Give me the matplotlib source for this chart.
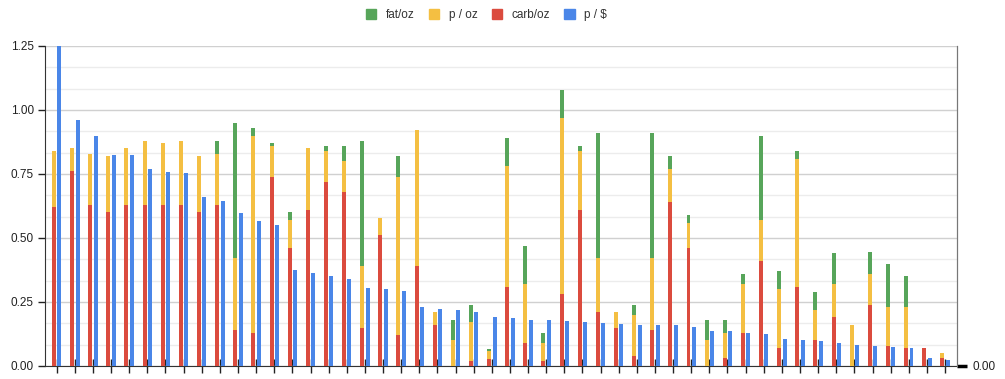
import matplotlib
import matplotlib.pyplot as plt
from matplotlib.patches import Patch
from matplotlib.ticker import MultipleLocator, AutoMinorLocator
import numpy as np

plt.rcParams['font.family'] = ['Liberation Sans', 'DejaVu Sans']
f_size = 8.5

# stacked segments per item (oz based) and protein per dollar
carb_oz = [0.62, 0.76, 0.63, 0.60, 0.63, 0.63, 0.63, 0.63, 0.60, 0.63,
           0.14, 0.13, 0.74, 0.46, 0.61, 0.72, 0.68, 0.15, 0.51, 0.12,
           0.39, 0.16, 0.00, 0.02, 0.027, 0.31, 0.09, 0.02, 0.28, 0.61,
           0.21, 0.15, 0.04, 0.14, 0.64, 0.46, 0.00, 0.03, 0.13, 0.41,
           0.07, 0.31, 0.10, 0.19, 0.00, 0.24, 0.08, 0.07, 0.07, 0.03]
p_oz = [0.22, 0.09, 0.20, 0.22, 0.22, 0.25, 0.24, 0.25, 0.22, 0.20,
        0.28, 0.77, 0.12, 0.11, 0.24, 0.12, 0.12, 0.24, 0.07, 0.62,
        0.53, 0.05, 0.10, 0.15, 0.03, 0.47, 0.23, 0.07, 0.69, 0.23,
        0.21, 0.06, 0.16, 0.28, 0.13, 0.10, 0.10, 0.10, 0.19, 0.16,
        0.23, 0.50, 0.12, 0.13, 0.16, 0.12, 0.15, 0.16, 0.00, 0.02]
fat_oz = [0.00, 0.00, 0.00, 0.00, 0.00, 0.00, 0.00, 0.00, 0.00, 0.05,
          0.53, 0.03, 0.01, 0.03, 0.00, 0.02, 0.06, 0.49, 0.00, 0.08,
          0.00, 0.00, 0.08, 0.07, 0.011, 0.11, 0.15, 0.04, 0.11, 0.02,
          0.49, 0.00, 0.04, 0.49, 0.05, 0.03, 0.08, 0.05, 0.04, 0.33,
          0.07, 0.03, 0.07, 0.12, 0.00, 0.085, 0.17, 0.12, 0.00, 0.00]
p_per_dollar = [1.25, 0.96, 0.90, 0.825, 0.825, 0.77, 0.757, 0.754, 0.662, 0.644,
                0.598, 0.565, 0.549, 0.375, 0.363, 0.352, 0.34, 0.303, 0.299, 0.294,
                0.23, 0.222, 0.219, 0.211, 0.193, 0.189, 0.181, 0.181, 0.177, 0.173,
                0.169, 0.163, 0.159, 0.159, 0.159, 0.151, 0.137, 0.137, 0.129, 0.124,
                0.104, 0.101, 0.098, 0.09, 0.082, 0.078, 0.074, 0.07, 0.033, 0.022]

#Colors
green = '#57a55a'
yellow = '#f4bf42'
red = '#db4b3e'
blue = '#4a86e8'

n = len(carb_oz)
x = np.arange(n)
carb = np.array(carb_oz)
poz = np.array(p_oz)
fat = np.array(fat_oz)

fig = plt.figure(figsize=(10.05, 3.79), dpi=100)
ax = fig.add_axes([45/1005, 13/379, 912/1005, 320/379])

w = 0.22
off = 0.15
ax.bar(x - off, carb, w, color=red, zorder=3)
ax.bar(x - off, poz, w, bottom=carb, color=yellow, zorder=3)
ax.bar(x - off, fat, w, bottom=carb + poz, color=green, zorder=3)
ax.bar(x + off, p_per_dollar, w, color=blue, zorder=3)

ax.set_ylim(0, 1.25)
ax.set_xlim(-0.645, 49.66)

#grid
ax.yaxis.set_major_locator(MultipleLocator(0.25))
ax.yaxis.set_minor_locator(AutoMinorLocator(3))
ax.grid(True, which='major', axis='y', color='#d0d0d0', lw=1.0, zorder=0)
ax.grid(True, which='minor', axis='y', color='#ececec', lw=1.0, zorder=0)
ax.set_axisbelow(True)
ax.yaxis.set_major_formatter(matplotlib.ticker.FormatStrFormatter('%.2f'))

ax.set_xticks(x)
ax.set_xticklabels([])
ax.tick_params(axis='x', direction='inout', length=10, width=1, color='#222222')
ax.tick_params(axis='y', which='major', direction='out', length=5, width=1,
               color='#222222', labelsize=f_size, labelcolor='#222222', pad=3)
ax.tick_params(axis='y', which='minor', length=0)

ax.spines['top'].set_visible(False)
ax.spines['left'].set_color('#333333')
ax.spines['bottom'].set_color('#333333')
ax.spines['right'].set_color('#777777')

#right axis, only shows 0.00
ax2 = ax.twinx()
ax2.set_ylim(0, 1.25)
ax2.set_yticks([0])
ax2.set_yticklabels(['0.00'])
ax2.tick_params(axis='y', direction='out', length=7, width=2.5, color='black',
                labelsize=f_size, labelcolor='#222222', pad=4)
for s in ['top', 'left', 'bottom']:
    ax2.spines[s].set_visible(False)
ax2.spines['right'].set_color('#777777')

#legend
handles = [Patch(color=green, label='fat/oz'),
           Patch(color=yellow, label='p / oz'),
           Patch(color=red, label='carb/oz'),
           Patch(color=blue, label='p / $')]
fig.legend(handles=handles, loc='center', bbox_to_anchor=(0.484, 1 - 15/379),
           ncol=4, frameon=False, fontsize=f_size, handlelength=0.9,
           handleheight=0.9, handletextpad=0.8, columnspacing=1.2,
           labelcolor='#333333')

fig.savefig('out.png', dpi=100)
